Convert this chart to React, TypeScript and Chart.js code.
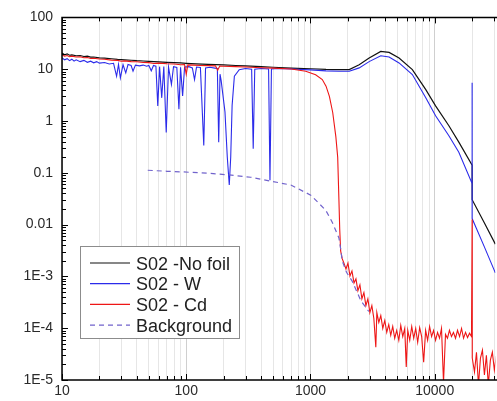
import React, { useEffect, useRef } from 'react';
import { Chart, registerables } from 'chart.js';

Chart.register(...registerables);

// ---- axis definitions ----
const xMin = 10;
const xMax = 30760;
const yMin = 1e-5;
const yMax = 100;
const xMajorValues = [10, 100, 1000, 10000];
const xTickLabels = ['10', '100', '1000', '10000'];
const yMajorValues = [1e-5, 1e-4, 1e-3, 0.01, 0.1, 1, 10, 100];
const yTickLabels = ['1E-5', '1E-4', '1E-3', '0.01', '0.1', '1', '10', '100'];
const minorMultiples = [1, 2, 3, 4, 5, 6, 7, 8, 9];

// ---- series labels ----
const seriesLabels = ['S02 -No foil', 'S02 - W', 'S02 - Cd', 'Background'];

// ---- S02 - No foil ----
const noFoilX = [10, 10.5, 11, 11.5, 12, 13, 14, 15, 16, 17, 18, 20, 22, 25, 28, 32, 36, 40, 45, 50, 60, 70, 80, 90, 100, 120, 150, 200, 250, 300, 400, 500, 700, 1000, 1334, 1700, 2051, 2466, 2966, 3680, 4294, 5164, 6607, 8450, 10160, 13000, 15630, 20000, 20010, 25000, 30760];
const noFoilY = [20.5, 19, 19.8, 18.6, 18.9, 18.2, 18.4, 17.6, 17.8, 17.1, 17.2, 16.6, 16.3, 15.9, 15.5, 15.2, 14.9, 14.6, 14.4, 14.2, 13.9, 13.6, 13.4, 13.2, 13, 12.7, 12.4, 12.1, 11.8, 11.6, 11.2, 10.9, 10.5, 10.2, 9.9, 9.85, 9.83, 12.2, 16.4, 22.1, 21.1, 16.4, 9.83, 4.07, 1.96, 0.81, 0.39, 0.14, 0.0303, 0.011, 0.0042];

// ---- S02 - W ----
const wX = [10, 10.5, 11, 11.5, 12, 12.5, 13, 14, 15, 16, 17, 18, 19, 20, 22, 24, 26, 27.5, 28.5, 29.5, 31, 32.6, 34, 36, 37.3, 39, 42, 45, 48, 50, 52.3, 54.5, 57, 59, 61, 63.5, 66, 69, 72, 76, 79, 84, 87.3, 90, 93.5, 97, 105, 112, 116.6, 121, 130, 138.4, 143, 155, 170, 178, 182.5, 187, 191, 205, 214, 222, 228, 234, 244, 267, 300, 336, 346, 356, 400, 460, 472, 485, 550, 700, 1000, 1334, 1700, 2051, 2466, 2966, 3680, 4294, 5164, 6607, 8450, 10160, 13000, 15630, 20000, 20000, 20010, 25000, 30760];
const wY = [16.5, 15.2, 16, 14.6, 15.6, 14.3, 15.2, 14, 14.8, 13.6, 14.3, 13.3, 14, 13.1, 13.5, 12.6, 13, 7.3, 12.4, 6.8, 12.2, 8.5, 12.3, 11.8, 9.2, 12, 11.6, 12, 11.4, 11.8, 9.3, 11.8, 11.4, 1.96, 11.2, 2.8, 11.3, 0.6, 11, 5.1, 11.2, 10.8, 1.69, 10.9, 3.06, 11, 11.2, 10.6, 6.3, 11, 10.8, 0.337, 10.6, 10.9, 10.5, 10.3, 0.39, 8, 6, 1.5, 0.2, 0.058, 0.2, 2, 7.3, 9.8, 10.3, 10, 0.29, 10, 10.3, 10.1, 0.072, 10.1, 10.3, 10.1, 9.7, 9.3, 9.1, 9.1, 10.6, 14, 18.2, 17.2, 13.2, 7.88, 2.83, 1.26, 0.52, 0.25, 0.062, 5.47, 0.0131, 0.0038, 0.00117];

// ---- S02 - Cd ----
const cdX = [10, 10.5, 11, 11.5, 12, 13, 14, 15, 16, 17, 18, 20, 22, 25, 28, 30, 32, 36, 40, 45, 50, 55, 60, 70, 80, 90, 97, 100, 103, 115, 130, 150, 172, 179, 186, 200, 250, 300, 400, 500, 700, 916, 1100, 1245, 1334, 1420, 1510, 1600, 1656, 1694, 1720, 1749, 1800, 1860,
  1930, 2003, 2078, 2157, 2240, 2322, 2408, 2500, 2593, 2692, 2792, 2897, 3006, 3119, 3236, 3357, 3420, 3548, 3681, 3819, 3963, 4111, 4266, 4426, 4592, 4764, 4943, 5140, 5330, 5530, 5737, 5900, 6068, 6295, 6531, 6776, 7030, 7293, 7567, 7850, 8145, 8450, 8767, 9095, 9436, 9790, 10160, 10540, 10930, 11340, 11770, 12210, 12670, 13140, 13640, 14150, 14700, 15260, 15850, 16440, 17060, 17700, 18370, 19060, 19770, 20000, 20050, 20900, 21680, 22500, 23340, 24210, 25120, 26060, 27000, 28050, 29100, 30200, 31300];
const cdY = [18.8, 17.8, 18.4, 17.4, 17.9, 17.2, 17.4, 16.6, 16.8, 16.1, 16.3, 15.7, 15.6, 15, 14.8, 14.2, 14.5, 14, 13.9, 13.5, 13.4, 12.9, 13.1, 12.7, 12.6, 12.2, 12.3, 8, 12.1, 12, 11.8, 11.7, 11.6, 9.5, 11.5, 11.4, 11.2, 11, 10.7, 10.5, 10.1, 9.16, 7.8, 6.3, 4.7, 3, 1.46, 0.5, 0.2, 0.03, 0.008, 0.0031, 0.0022, 0.0018,
  1.39e-3, 1.81e-3, 1.02e-3, 1.27e-3, 7.5e-4, 8.95e-4, 5.3e-4, 6.9e-4, 3.7e-4, 4.85e-4, 2.73e-4, 3.7e-4, 2.0e-4, 2.73e-4, 1.54e-4, 4.3e-5, 2.0e-4, 1.29e-4, 1.76e-4, 9.9e-5, 1.41e-4, 8.3e-5, 1.18e-4, 7.3e-5, 1.08e-4, 6.4e-5, 9.1e-5, 5.85e-5, 1.13e-4, 6.9e-5, 9.9e-5, 1.78e-5, 9.1e-5, 5.85e-5, 1.08e-4, 6.4e-5, 9.9e-5, 5.35e-5, 1.03e-4, 6.9e-5, 2.2e-5, 9.1e-5, 5.85e-5, 1.08e-4, 6.9e-5, 9.1e-5, 5.85e-5, 8.3e-5, 6.4e-5, 9.9e-5, 9e-6, 7.6e-5, 6.4e-5, 9.1e-5, 6.9e-5, 8.3e-5, 6.4e-5, 9.1e-5, 6.9e-5, 9.9e-5, 6.4e-5, 8.3e-5, 6.6e-5, 8e-5, 6.9e-5, 0.0125, 2.65e-5, 1.43e-5, 3.44e-5, 8e-6, 2.65e-5, 3.77e-5, 1.25e-5, 3.0e-5, 8e-6, 2.42e-5, 3.44e-5, 1.56e-5, 2.9e-5];

// ---- Background ----
const bgX = [49, 70, 94, 150, 222, 330, 466, 695, 1005, 1326, 1500, 1695, 1760, 1800, 1950, 2160, 2546, 2950];
const bgY = [0.112, 0.107, 0.104, 0.098, 0.091, 0.082, 0.07, 0.058, 0.037, 0.019, 0.011, 0.0055, 0.0031, 0.002, 0.0012, 8.2e-4, 3.4e-4, 2.1e-4];

const seriesColors = ['#111111', '#2b2bea', '#ee1616', '#7163cc'];

const toPoints = (xs: number[], ys: number[]) => xs.map((x, i) => ({ x, y: ys[i] }));

const isPow10 = (v: number) => {
  const l = Math.log10(v);
  return Math.abs(l - Math.round(l)) < 1e-9;
};

const buildTicks = (majors: number[], max: number) => {
  const out: { value: number; major: boolean }[] = [];
  majors.forEach((d) => {
    minorMultiples.forEach((m) => {
      const v = d * m;
      if (v <= max * 1.0000001) out.push({ value: v, major: m === 1 });
    });
  });
  return out;
};

const labelFor = (values: number[], labels: string[], v: number) => {
  const i = values.findIndex((t) => Math.abs(Math.log10(t) - Math.log10(v)) < 1e-9);
  return i >= 0 ? labels[i] : '';
};

const FONT = '"Liberation Sans", Arial, sans-serif';

const framePlugin = {
  id: 'frameTicksLegend',
  afterDatasetsDraw(chart: any) {
    const { ctx, chartArea: a, scales } = chart;
    const xs = scales.x;
    const ys = scales.y;
    ctx.save();
    ctx.strokeStyle = '#000';
    ctx.lineWidth = 1;
    // ticks
    ctx.beginPath();
    xs.ticks.forEach((t: any) => {
      const px = Math.round(xs.getPixelForValue(t.value)) + 0.5;
      const len = isPow10(t.value) ? 6 : 4;
      ctx.moveTo(px, a.bottom);
      ctx.lineTo(px, a.bottom - len);
      ctx.moveTo(px, a.top);
      ctx.lineTo(px, a.top + len);
    });
    ys.ticks.forEach((t: any) => {
      const py = Math.round(ys.getPixelForValue(t.value)) + 0.5;
      const len = isPow10(t.value) ? 6 : 4;
      ctx.moveTo(a.left, py);
      ctx.lineTo(a.left + len, py);
    });
    ctx.stroke();
    // frame
    ctx.lineWidth = 1.5;
    ctx.beginPath();
    ctx.moveTo(a.right + 2, a.top);
    ctx.lineTo(a.left, a.top);
    ctx.lineTo(a.left, a.bottom);
    ctx.lineTo(a.right + 2, a.bottom);
    ctx.stroke();

    // legend
    const bx = 80, by = 246, bw = 159, bh = 92;
    ctx.fillStyle = '#ffffff';
    ctx.fillRect(bx, by, bw, bh);
    ctx.strokeStyle = '#8c8c8c';
    ctx.lineWidth = 1;
    ctx.strokeRect(bx + 0.5, by + 0.5, bw, bh);
    ctx.font = `18px ${FONT}`;
    ctx.textBaseline = 'alphabetic';
    ctx.textAlign = 'left';
    chart.data.datasets.forEach((ds: any, i: number) => {
      const cy = 263 + i * 20.7;
      ctx.save();
      ctx.strokeStyle = ds.borderColor;
      ctx.lineWidth = 1.2;
      ctx.setLineDash(ds.borderDash || []);
      ctx.beginPath();
      ctx.moveTo(90, cy);
      ctx.lineTo(130, cy);
      ctx.stroke();
      ctx.restore();
      ctx.fillStyle = '#222';
      ctx.fillText(ds.label, 136, cy + 6.5);
    });
    ctx.restore();
  },
};

export default function App() {
  const canvasRef = useRef<HTMLCanvasElement | null>(null);

  useEffect(() => {
    const canvas = canvasRef.current;
    if (!canvas) return;
    const common = { pointRadius: 0, pointHoverRadius: 0, borderWidth: 1.1, tension: 0, fill: false };
    const chart = new Chart(canvas, {
      type: 'line',
      data: {
        datasets: [
          { ...common, label: seriesLabels[0], data: toPoints(noFoilX, noFoilY), borderColor: seriesColors[0], order: 3, borderWidth: 1.2 },
          { ...common, label: seriesLabels[1], data: toPoints(wX, wY), borderColor: seriesColors[1], order: 2 },
          { ...common, label: seriesLabels[2], data: toPoints(cdX, cdY), borderColor: seriesColors[2], order: 1 },
          { ...common, label: seriesLabels[3], data: toPoints(bgX, bgY), borderColor: seriesColors[3], borderDash: [5, 4], borderWidth: 1.2, order: 0 },
        ],
      },
      options: {
        responsive: false,
        animation: false,
        devicePixelRatio: 1,
        layout: { padding: { top: 14, left: 0, right: 0, bottom: 0 } },
        plugins: { legend: { display: false }, tooltip: { enabled: false } },
        scales: {
          x: {
            type: 'logarithmic',
            min: xMin,
            max: xMax,
            afterBuildTicks: (scale: any) => {
              scale.ticks = buildTicks(xMajorValues, xMax);
            },
            afterFit: (scale: any) => {
              scale.height = 21;
            },
            ticks: {
              autoSkip: false,
              maxRotation: 0,
              padding: 3,
              color: '#2a2a2a',
              font: { family: FONT, size: 14 },
              callback: (v: any) => labelFor(xMajorValues, xTickLabels, Number(v)),
            },
            grid: {
              display: true,
              drawTicks: false,
              lineWidth: 1,
              color: (c: any) => (c.tick && isPow10(c.tick.value) ? '#cfcfcf' : '#e6e6e6'),
            },
            border: { display: false },
          },
          y: {
            type: 'logarithmic',
            min: yMin,
            max: yMax,
            afterBuildTicks: (scale: any) => {
              scale.ticks = buildTicks(yMajorValues, yMax);
            },
            afterFit: (scale: any) => {
              scale.width = 62;
            },
            ticks: {
              autoSkip: false,
              padding: 9,
              color: '#2a2a2a',
              font: { family: FONT, size: 14 },
              callback: (v: any) => labelFor(yMajorValues, yTickLabels, Number(v)),
            },
            grid: { display: false, drawTicks: false },
            border: { display: false },
          },
        },
      },
      plugins: [framePlugin],
    } as any);
    return () => chart.destroy();
  }, []);

  return (
    <div style={{ position: 'fixed', left: 0, top: 0, width: 497, height: 401, background: '#fff' }}>
      <canvas ref={canvasRef} width={497} height={401} style={{ display: 'block', width: 497, height: 401 }} />
    </div>
  );
}
